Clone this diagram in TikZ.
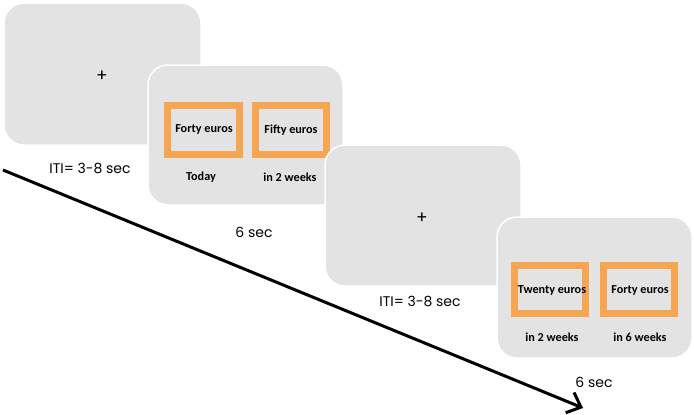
\documentclass[tikz,border=0pt]{standalone}
\usepackage{fontspec}
\setmainfont{Poppins}
\newfontfamily\boxfont{Carlito}
\usetikzlibrary{arrows.meta}
\definecolor{panelgray}{HTML}{E3E3E3}
\definecolor{choiceorange}{HTML}{F6A553}
\tikzset{
  x=1pt, y=-1pt,
  panel/.style={fill=panelgray, draw=white, line width=1.5pt, rounded corners=20pt},
  choice/.style={draw=choiceorange, line width=7pt, fill=panelgray},
  choicetext/.style={font=\boxfont\bfseries\fontsize{12.2}{14}\selectfont, inner sep=0pt},
  timelabel/.style={font=\fontsize{14}{16}\selectfont, inner sep=0pt},
  fix/.style={font=\fontsize{17}{19}\selectfont, inner sep=0pt}
}
\begin{document}
\begin{tikzpicture}
\useasboundingbox (0,0) rectangle (694,415);
% panel 1
\draw[panel] (4,3) rectangle (201,145);
\node[fix] (p1) at (102,76) {+};
\node[timelabel] (iti1) at (90,168) {ITI= 3-8 sec};
% panel 2
\draw[panel] (148,65) rectangle (343,205);
\draw[choice] (167.5,105.5) rectangle (239.5,154.5);
\draw[choice] (255.5,105.5) rectangle (326.5,154.5);
\node[choicetext] (a1) at (204,130) {Forty euros};
\node[choicetext] (b1) at (291,130) {Fifty euros};
\node[choicetext] (a1d) at (201,177) {Today};
\node[choicetext] (b1d) at (290,177) {in 2 weeks};
\node[timelabel] (t1) at (254,232) {6 sec};
% panel 3
\draw[panel] (325,145) rectangle (521,286);
\node[fix] (p2) at (422,218) {+};
\node[timelabel] (iti2) at (420,301) {ITI= 3-8 sec};
% panel 4
\draw[panel] (497,217) rectangle (692,358);
\draw[choice] (514.5,265.5) rectangle (585.5,313.5);
\draw[choice] (603.5,265.5) rectangle (674.5,313.5);
\node[choicetext] (a2) at (552,291) {Twenty euros};
\node[choicetext] (b2) at (640,291) {Forty euros};
\node[choicetext] (a2d) at (552,337) {in 2 weeks};
\node[choicetext] (b2d) at (640,337) {in 6 weeks};
\node[timelabel] (t2) at (594,382) {6 sec};
% time arrow
\coordinate (s) at (3,170);
\coordinate (e) at (583,408);
\draw[line width=3pt, -{Straight Barb[length=12pt, width=22pt, line width=3pt]}] (s) -- (e);
\end{tikzpicture}
\end{document}
